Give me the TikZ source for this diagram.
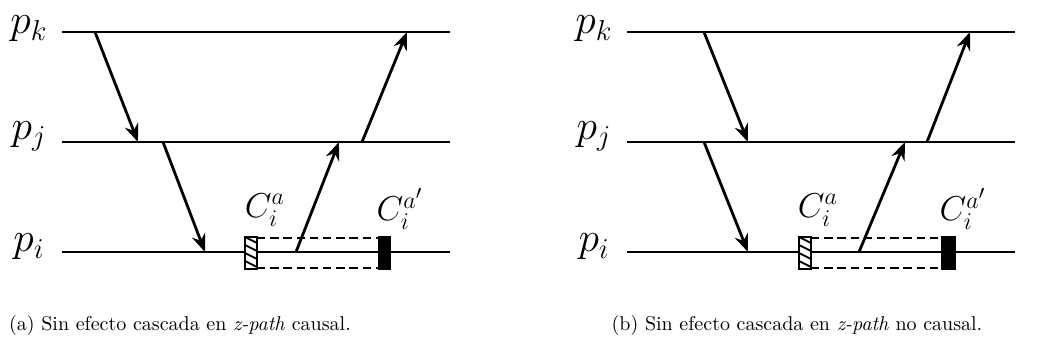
\documentclass[tikz,border=0pt]{standalone}
\usetikzlibrary{arrows.meta}
\begin{document}
\begin{tikzpicture}[x=0.5pt,y=-0.5pt,
  proc/.style={line width=1.4pt},
  msg/.style={line width=1.4pt,-{Stealth[length=9pt,width=7pt,inset=3pt]}},
  dashln/.style={line width=1.4pt,dash pattern=on 4.2pt off 2.4pt},
  plabel/.style={font=\huge,inner sep=0pt},
  clabel/.style={font=\LARGE,inner sep=0pt},
  captext/.style={font=\normalsize,inner sep=0pt},
  filledck/.style={fill=black,draw=black,line width=1pt},
  hatchck/.style={fill=white,draw=black,line width=1pt}]
\useasboundingbox (0,0) rectangle (1040,347);
% ---------- diagram (a) ----------
\foreach \n/\y in {k/32,j/142,i/252}{
  \coordinate (a\n s) at (62,\y);
  \coordinate (a\n e) at (450,\y);
  \draw[proc] (a\n s) -- (a\n e);
}
\node[plabel] (apk) at (29,29) {$p_k$};
\node[plabel] (apj) at (29,136) {$p_j$};
\node[plabel] (api) at (29,247) {$p_i$};
\coordinate (a1) at (95,32);  \coordinate (a2) at (138,142);
\coordinate (a3) at (163,142); \coordinate (a4) at (205,252);
\coordinate (a5) at (296,252); \coordinate (a6) at (339,142);
\coordinate (a7) at (362,142); \coordinate (a8) at (407,32);
\draw[dashln] (257,238) -- (378,238);
\draw[dashln] (257,268) -- (378,268);
\draw[msg] (a1) -- (a2);
\draw[msg] (a3) -- (a4);
\draw[msg] (a5) -- (a6);
\draw[msg] (a7) -- (a8);
\draw[hatchck] (245,237) rectangle (257,269);
\begin{scope}
  \clip (245,237) rectangle (257,269);
  \foreach \d in {-8,0,8,16,24,32}{
    \draw[line width=0.9pt] (245,237+\d) -- (257,243+\d);
  }
\end{scope}
\draw[hatchck,fill=none] (245,237) rectangle (257,269);
\draw[filledck] (379,237) rectangle (390,269);
\node[clabel] (aca) at (265,210) {$C_i^a$};
\node[clabel] (acb) at (400,209) {$C_i^{a'}$};
\node[captext] (capa) at (180,326) {(a) Sin efecto cascada en \textit{z-path} causal.};
% ---------- diagram (b) ----------
\begin{scope}[xshift=282.5pt]
\foreach \n/\y in {k/32,j/142,i/252}{
  \coordinate (b\n s) at (62,\y);
  \coordinate (b\n e) at (450,\y);
  \draw[proc] (b\n s) -- (b\n e);
}
\node[plabel] (bpk) at (29,29) {$p_k$};
\node[plabel] (bpj) at (29,136) {$p_j$};
\node[plabel] (bpi) at (29,247) {$p_i$};
\coordinate (b1) at (139,32);  \coordinate (b2) at (183,142);
\coordinate (b3) at (139,142); \coordinate (b4) at (183,252);
\coordinate (b5) at (294,252); \coordinate (b6) at (340,142);
\coordinate (b7) at (362,142); \coordinate (b8) at (405,32);
\draw[dashln] (246,238) -- (377,238);
\draw[dashln] (246,268) -- (377,268);
\draw[msg] (b1) -- (b2);
\draw[msg] (b3) -- (b4);
\draw[msg] (b5) -- (b6);
\draw[msg] (b7) -- (b8);
\draw[hatchck] (234,237) rectangle (246,269);
\begin{scope}
  \clip (234,237) rectangle (246,269);
  \foreach \d in {-8,0,8,16,24,32}{
    \draw[line width=0.9pt] (234,237+\d) -- (246,243+\d);
  }
\end{scope}
\draw[hatchck,fill=none] (234,237) rectangle (246,269);
\draw[filledck] (377,237) rectangle (390,269);
\node[clabel] (bca) at (253,210) {$C_i^a$};
\node[clabel] (bcb) at (398,209) {$C_i^{a'}$};
\node[captext] (capb) at (232,326) {(b) Sin efecto cascada en \textit{z-path} no causal.};
\end{scope}
\end{tikzpicture}
\end{document}
